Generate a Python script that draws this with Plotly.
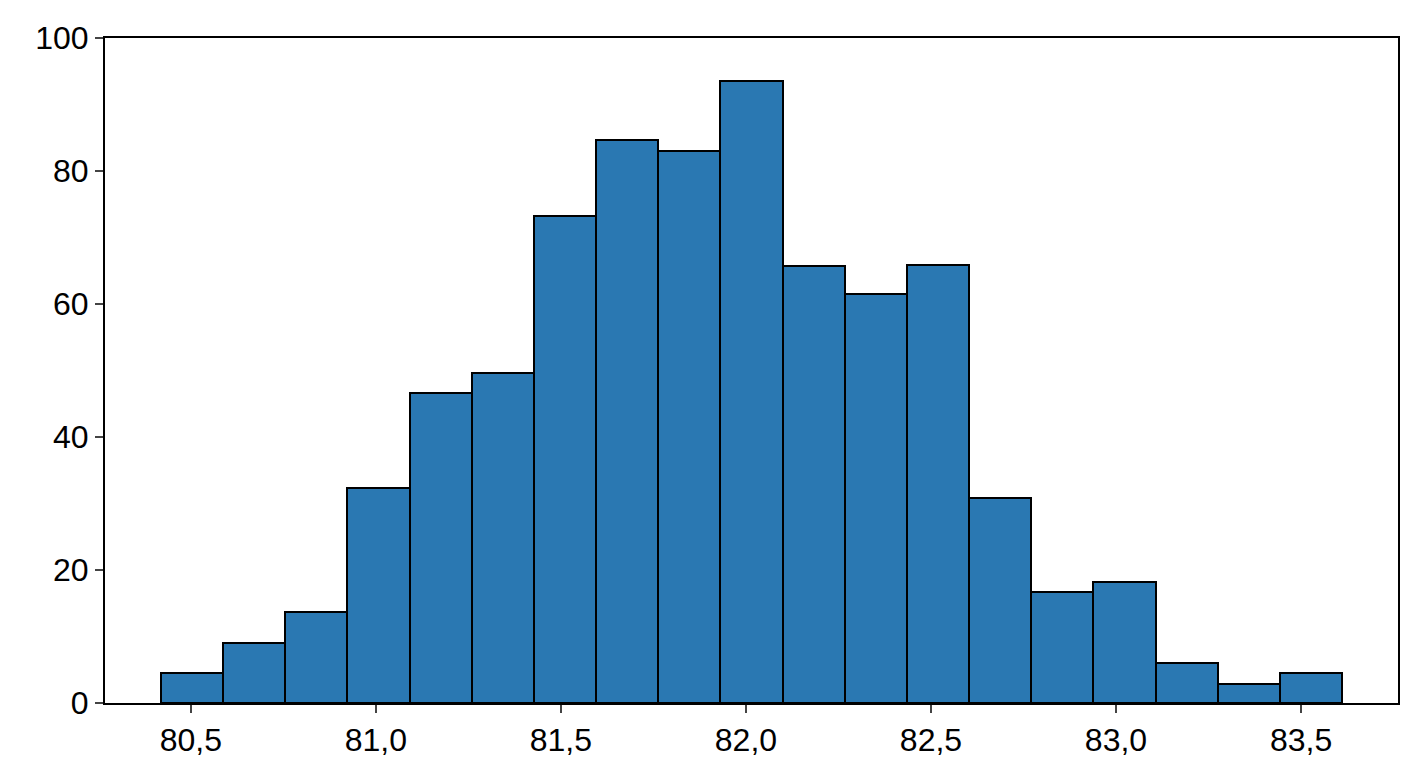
import plotly.graph_objects as go

bin_start = 80.419
bin_width = 0.168
counts = [4.5, 9, 13.7, 32.3, 46.6, 49.6, 73.2, 84.7, 83, 93.5, 65.7, 61.5, 65.9, 30.8, 16.7, 18.2, 6, 2.9, 4.5]
tick_vals = [80.5, 81.0, 81.5, 82.0, 82.5, 83.0, 83.5]

centers = [bin_start + bin_width * (i + 0.5) for i in range(len(counts))]

fig = go.Figure(go.Bar(
    x=centers, y=counts, width=bin_width,
    marker=dict(color="#2a78b2", line=dict(color="black", width=2)),
))
fig.update_layout(
    width=1408, height=768,
    margin=dict(l=97, r=18, t=30, b=73),
    plot_bgcolor="white", paper_bgcolor="white",
    separators=",.",
    font=dict(family="Liberation Sans, Arial", size=32, color="black"),
    showlegend=False, bargap=0,
)
fig.update_xaxes(range=[80.268, 83.762], tickvals=tick_vals, tickformat=".1f",
                 ticks="outside", ticklen=8, tickwidth=1.5, showgrid=False,
                 showline=True, linecolor="black", linewidth=2, mirror=True, zeroline=False)
fig.update_yaxes(range=[0, 100], tickvals=[0, 20, 40, 60, 80, 100],
                 ticks="outside", ticklen=8, tickwidth=1.5, showgrid=False,
                 showline=True, linecolor="black", linewidth=2, mirror=True, zeroline=False)
fig.write_html("out.html")
